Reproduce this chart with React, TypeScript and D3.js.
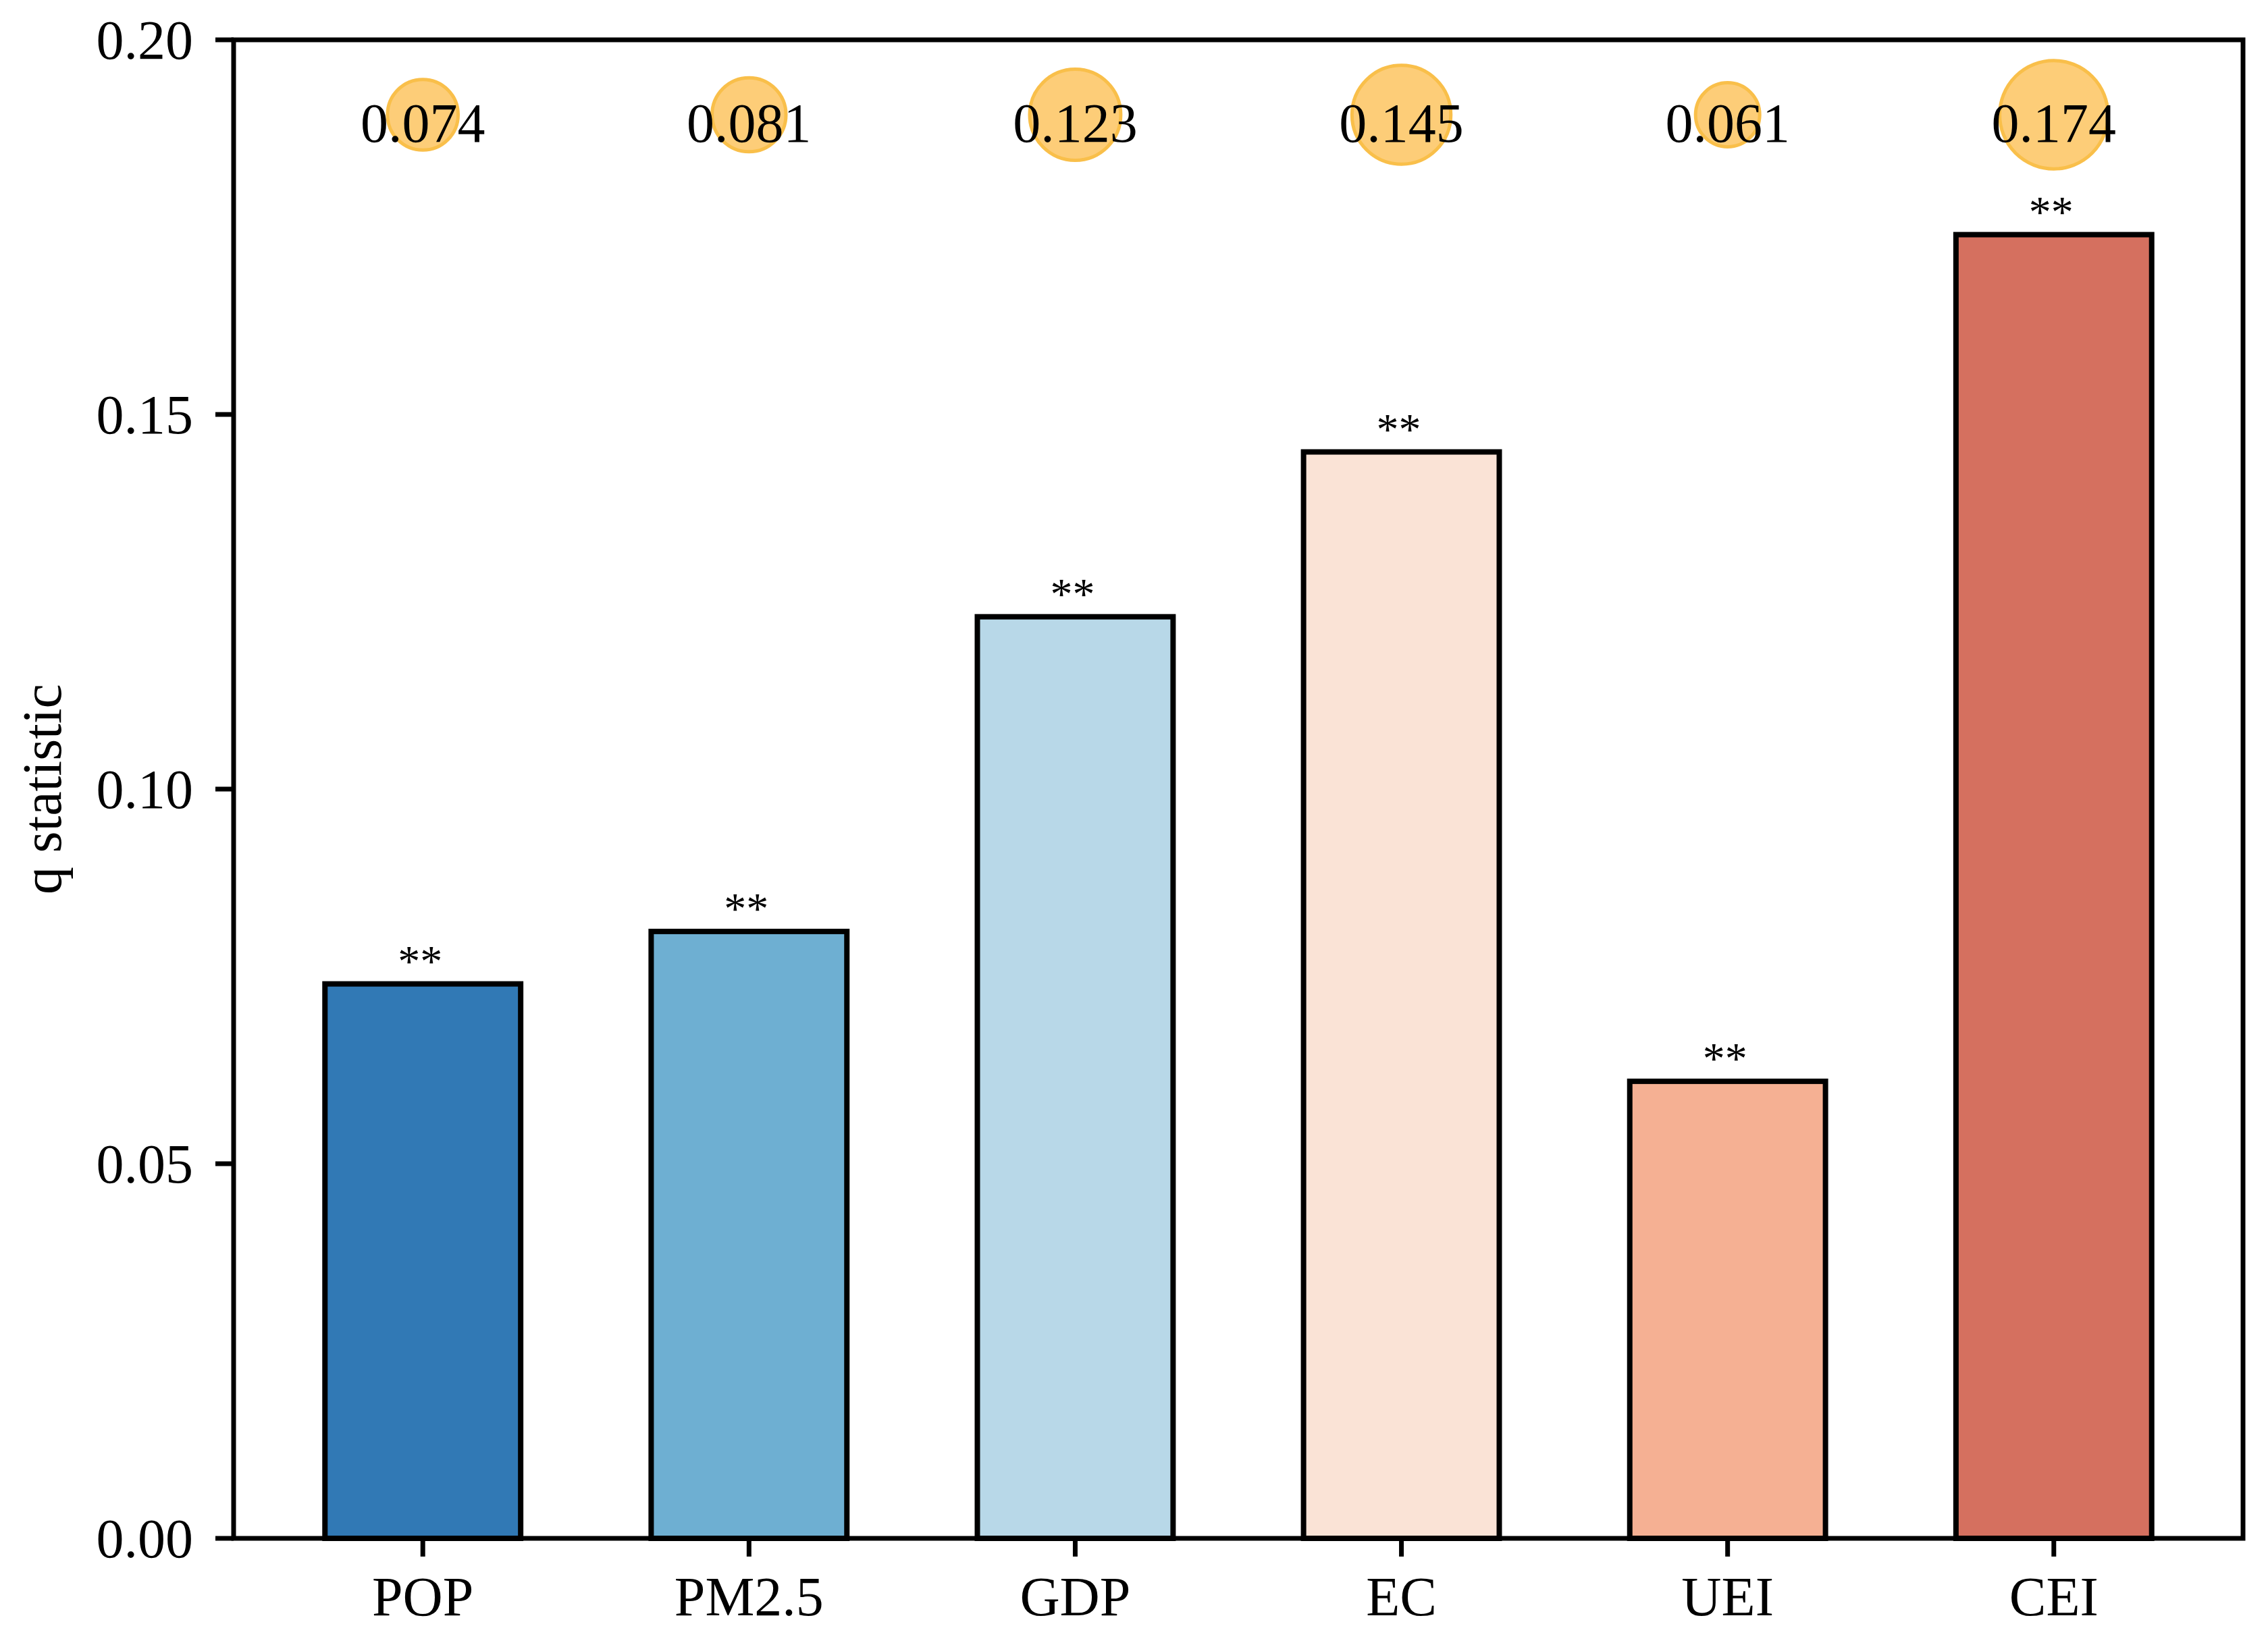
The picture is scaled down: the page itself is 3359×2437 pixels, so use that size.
import React from "react"
import * as d3 from "d3"

const categories = ["POP", "PM2.5", "GDP", "EC", "UEI", "CEI"]
const qValues = [0.074, 0.081, 0.123, 0.145, 0.061, 0.174]
const significance = ["**", "**", "**", "**", "**", "**"]
const barColors = ["#3179b5", "#6eafd2", "#b8d8e8", "#fae3d6", "#f5b093", "#d5705f"]
const yTicks = [0, 0.05, 0.1, 0.15, 0.2]

const width = 3359
const height = 2437
const margin = {top: 59, right: 37, bottom: 158, left: 346}
const font = "'Liberation Serif', 'Times New Roman', serif"

const App = () => {
    const xScale = d3.scaleLinear()
        .domain([-0.58, categories.length - 1 + 0.58])
        .range([margin.left, width - margin.right])
    const yScale = d3.scaleLinear()
        .domain([0, 0.2])
        .range([height - margin.bottom, margin.top])
    // bubble area follows the q value
    const rScale = d3.scaleSqrt().domain([0, 0.2]).range([0, 86])
    const barW = xScale(0.6) - xScale(0)
    const fmt = d3.format(".2f")
    const x0 = margin.left
    const x1 = width - margin.right
    const y0 = height - margin.bottom
    const y1 = margin.top

    return (
        <div style={{position: "absolute", left: 0, top: 0}}>
            <svg width={width} height={height} viewBox={`0 0 ${width} ${height}`}
                 style={{display: "block", background: "#fff"}} fontFamily={font}>
                {/* bars */}
                <g>
                    {qValues.map((v, i) => (
                        <rect key={categories[i]}
                              x={xScale(i) - barW / 2} y={yScale(v)}
                              width={barW} height={yScale(0) - yScale(v)}
                              fill={barColors[i]} stroke="#000" strokeWidth={8}/>
                    ))}
                </g>
                {/* significance stars */}
                <g>
                    {qValues.map((v, i) => (
                        <text key={i} x={xScale(i) - 4} y={yScale(v) - 12}
                              textAnchor="middle" fontSize={66}>{significance[i]}</text>
                    ))}
                </g>
                {/* bubbles with values */}
                <g>
                    {qValues.map((v, i) => (
                        <g key={i}>
                            <circle cx={xScale(i)} cy={yScale(0.19)} r={rScale(v)}
                                    fill="#fdcd78" stroke="#f9bf4a" strokeWidth={5}/>
                            <text x={xScale(i)} y={yScale(0.19) + 40}
                                  textAnchor="middle" fontSize={82}>{v.toFixed(3)}</text>
                        </g>
                    ))}
                </g>
                {/* axes box */}
                <rect x={x0} y={y1} width={x1 - x0} height={y0 - y1}
                      fill="none" stroke="#000" strokeWidth={7}/>
                {/* y ticks */}
                <g>
                    {yTicks.map(t => (
                        <g key={t}>
                            <line x1={x0 - 27} x2={x0} y1={yScale(t)} y2={yScale(t)}
                                  stroke="#000" strokeWidth={7}/>
                            <text x={x0 - 60} y={yScale(t) + 28} textAnchor="end"
                                  fontSize={82}>{fmt(t)}</text>
                        </g>
                    ))}
                </g>
                {/* x ticks */}
                <g>
                    {categories.map((c, i) => (
                        <g key={c}>
                            <line x1={xScale(i)} x2={xScale(i)} y1={y0} y2={y0 + 27}
                                  stroke="#000" strokeWidth={7}/>
                            <text x={xScale(i)} y={2393} textAnchor="middle"
                                  fontSize={82}>{c}</text>
                        </g>
                    ))}
                </g>
                <text transform={`translate(90, ${(y0 + y1) / 2}) rotate(-90)`}
                      textAnchor="middle" fontSize={82}>q statistic</text>
            </svg>
        </div>
    )
}

export default App
